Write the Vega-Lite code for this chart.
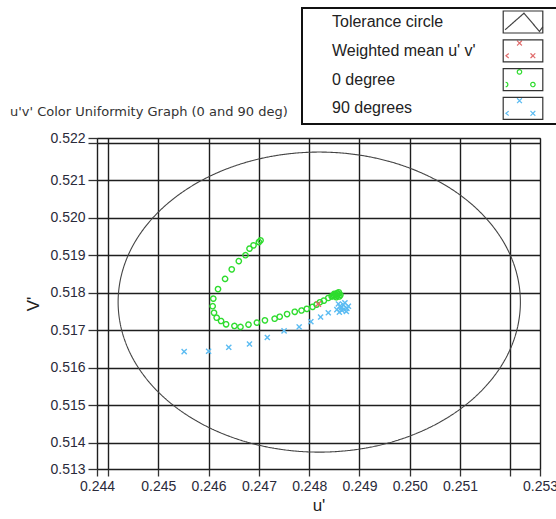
{
  "$schema": "https://vega.github.io/schema/vega-lite/v6.json",
  "autosize": "none",
  "width": 443,
  "height": 331,
  "padding": {"left": 97, "top": 138, "right": 16, "bottom": 50},
  "background": "white",
  "title": {
    "text": "u'v' Color Uniformity Graph (0 and 90 deg)",
    "anchor": "start",
    "frame": "group",
    "font": "DejaVu Sans",
    "fontSize": 13,
    "fontWeight": "normal",
    "color": "#333",
    "dx": -87,
    "offset": 14,
    "dy": 126
  },
  "datasets": {
    "circle": [
      {"i": 0, "u": 0.2522, "v": 0.51775, "series": "Tolerance circle"},
      {"i": 1, "u": 0.252139, "v": 0.518445, "series": "Tolerance circle"},
      {"i": 2, "u": 0.251959, "v": 0.519118, "series": "Tolerance circle"},
      {"i": 3, "u": 0.251664, "v": 0.51975, "series": "Tolerance circle"},
      {"i": 4, "u": 0.251264, "v": 0.520321, "series": "Tolerance circle"},
      {"i": 5, "u": 0.250771, "v": 0.520814, "series": "Tolerance circle"},
      {"i": 6, "u": 0.2502, "v": 0.521214, "series": "Tolerance circle"},
      {"i": 7, "u": 0.249568, "v": 0.521509, "series": "Tolerance circle"},
      {"i": 8, "u": 0.248895, "v": 0.521689, "series": "Tolerance circle"},
      {"i": 9, "u": 0.2482, "v": 0.52175, "series": "Tolerance circle"},
      {"i": 10, "u": 0.247505, "v": 0.521689, "series": "Tolerance circle"},
      {"i": 11, "u": 0.246832, "v": 0.521509, "series": "Tolerance circle"},
      {"i": 12, "u": 0.2462, "v": 0.521214, "series": "Tolerance circle"},
      {"i": 13, "u": 0.245629, "v": 0.520814, "series": "Tolerance circle"},
      {"i": 14, "u": 0.245136, "v": 0.520321, "series": "Tolerance circle"},
      {"i": 15, "u": 0.244736, "v": 0.51975, "series": "Tolerance circle"},
      {"i": 16, "u": 0.244441, "v": 0.519118, "series": "Tolerance circle"},
      {"i": 17, "u": 0.244261, "v": 0.518445, "series": "Tolerance circle"},
      {"i": 18, "u": 0.2442, "v": 0.51775, "series": "Tolerance circle"},
      {"i": 19, "u": 0.244261, "v": 0.517055, "series": "Tolerance circle"},
      {"i": 20, "u": 0.244441, "v": 0.516382, "series": "Tolerance circle"},
      {"i": 21, "u": 0.244736, "v": 0.51575, "series": "Tolerance circle"},
      {"i": 22, "u": 0.245136, "v": 0.515179, "series": "Tolerance circle"},
      {"i": 23, "u": 0.245629, "v": 0.514686, "series": "Tolerance circle"},
      {"i": 24, "u": 0.2462, "v": 0.514286, "series": "Tolerance circle"},
      {"i": 25, "u": 0.246832, "v": 0.513991, "series": "Tolerance circle"},
      {"i": 26, "u": 0.247505, "v": 0.513811, "series": "Tolerance circle"},
      {"i": 27, "u": 0.2482, "v": 0.51375, "series": "Tolerance circle"},
      {"i": 28, "u": 0.248895, "v": 0.513811, "series": "Tolerance circle"},
      {"i": 29, "u": 0.249568, "v": 0.513991, "series": "Tolerance circle"},
      {"i": 30, "u": 0.2502, "v": 0.514286, "series": "Tolerance circle"},
      {"i": 31, "u": 0.250771, "v": 0.514686, "series": "Tolerance circle"},
      {"i": 32, "u": 0.251264, "v": 0.515179, "series": "Tolerance circle"},
      {"i": 33, "u": 0.251664, "v": 0.51575, "series": "Tolerance circle"},
      {"i": 34, "u": 0.251959, "v": 0.516382, "series": "Tolerance circle"},
      {"i": 35, "u": 0.252139, "v": 0.517055, "series": "Tolerance circle"}
    ],
    "pts": [
      {"u": 0.247033, "v": 0.519395, "series": "0 degree"},
      {"u": 0.247, "v": 0.519351, "series": "0 degree"},
      {"u": 0.246893, "v": 0.519263, "series": "0 degree"},
      {"u": 0.246813, "v": 0.519175, "series": "0 degree"},
      {"u": 0.246733, "v": 0.519, "series": "0 degree"},
      {"u": 0.2466, "v": 0.518842, "series": "0 degree"},
      {"u": 0.24646, "v": 0.518623, "series": "0 degree"},
      {"u": 0.246327, "v": 0.518368, "series": "0 degree"},
      {"u": 0.246187, "v": 0.518096, "series": "0 degree"},
      {"u": 0.246093, "v": 0.517842, "series": "0 degree"},
      {"u": 0.24608, "v": 0.51764, "series": "0 degree"},
      {"u": 0.246107, "v": 0.517465, "series": "0 degree"},
      {"u": 0.24616, "v": 0.517333, "series": "0 degree"},
      {"u": 0.246247, "v": 0.517246, "series": "0 degree"},
      {"u": 0.246347, "v": 0.517158, "series": "0 degree"},
      {"u": 0.246513, "v": 0.517114, "series": "0 degree"},
      {"u": 0.246633, "v": 0.517088, "series": "0 degree"},
      {"u": 0.246793, "v": 0.517149, "series": "0 degree"},
      {"u": 0.24696, "v": 0.517202, "series": "0 degree"},
      {"u": 0.24712, "v": 0.517263, "series": "0 degree"},
      {"u": 0.247313, "v": 0.517307, "series": "0 degree"},
      {"u": 0.247413, "v": 0.51736, "series": "0 degree"},
      {"u": 0.24756, "v": 0.51743, "series": "0 degree"},
      {"u": 0.247713, "v": 0.517491, "series": "0 degree"},
      {"u": 0.247847, "v": 0.517526, "series": "0 degree"},
      {"u": 0.247953, "v": 0.51757, "series": "0 degree"},
      {"u": 0.248067, "v": 0.517623, "series": "0 degree"},
      {"u": 0.248147, "v": 0.517684, "series": "0 degree"},
      {"u": 0.248213, "v": 0.517746, "series": "0 degree"},
      {"u": 0.248293, "v": 0.51779, "series": "0 degree"},
      {"u": 0.24838, "v": 0.51786, "series": "0 degree"},
      {"u": 0.248447, "v": 0.517904, "series": "0 degree"},
      {"u": 0.248493, "v": 0.51793, "series": "0 degree"},
      {"u": 0.24852, "v": 0.51795, "series": "0 degree"},
      {"u": 0.24855, "v": 0.51792, "series": "0 degree"},
      {"u": 0.24858, "v": 0.51796, "series": "0 degree"},
      {"u": 0.2486, "v": 0.5179, "series": "0 degree"},
      {"u": 0.24856, "v": 0.51799, "series": "0 degree"},
      {"u": 0.2485, "v": 0.51797, "series": "0 degree"},
      {"u": 0.24862, "v": 0.51794, "series": "0 degree"},
      {"u": 0.24854, "v": 0.51788, "series": "0 degree"},
      {"u": 0.24859, "v": 0.51801, "series": "0 degree"},
      {"u": 0.24847, "v": 0.51791, "series": "0 degree"},
      {"u": 0.245513, "v": 0.51643, "series": "90 degrees"},
      {"u": 0.246, "v": 0.516439, "series": "90 degrees"},
      {"u": 0.2464, "v": 0.516544, "series": "90 degrees"},
      {"u": 0.246813, "v": 0.516632, "series": "90 degrees"},
      {"u": 0.247167, "v": 0.516807, "series": "90 degrees"},
      {"u": 0.2475, "v": 0.516982, "series": "90 degrees"},
      {"u": 0.2478, "v": 0.517088, "series": "90 degrees"},
      {"u": 0.248033, "v": 0.517228, "series": "90 degrees"},
      {"u": 0.248227, "v": 0.517351, "series": "90 degrees"},
      {"u": 0.24838, "v": 0.517465, "series": "90 degrees"},
      {"u": 0.24855, "v": 0.51755, "series": "90 degrees"},
      {"u": 0.24861, "v": 0.51764, "series": "90 degrees"},
      {"u": 0.24868, "v": 0.51768, "series": "90 degrees"},
      {"u": 0.24875, "v": 0.51758, "series": "90 degrees"},
      {"u": 0.24865, "v": 0.51753, "series": "90 degrees"},
      {"u": 0.24871, "v": 0.51773, "series": "90 degrees"},
      {"u": 0.24878, "v": 0.51764, "series": "90 degrees"},
      {"u": 0.24858, "v": 0.5177, "series": "90 degrees"},
      {"u": 0.24864, "v": 0.5176, "series": "90 degrees"},
      {"u": 0.24874, "v": 0.5175, "series": "90 degrees"},
      {"u": 0.24869, "v": 0.51756, "series": "90 degrees"},
      {"u": 0.2486, "v": 0.51748, "series": "90 degrees"},
      {"u": 0.24818, "v": 0.5177, "series": "Weighted mean u' v'"}
    ]
  },
  "encoding": {
    "x": {
      "field": "u", "type": "quantitative",
      "scale": {"domain": [0.24378, 0.25259], "nice": false, "zero": false},
      "axis": {
        "title": "u'",
        "values": [0.24378, 0.244, 0.245, 0.246, 0.247, 0.248, 0.249, 0.25, 0.251, 0.252, 0.25259],
        "labelExpr": "(datum.value == 0.244 || datum.value == 0.252) ? '' : format(datum.value, '.3f')",
        "tickSize": 7,
        "labelPadding": 3,
        "titlePadding": 4
      }
    },
    "y": {
      "field": "v", "type": "quantitative",
      "scale": {"domain": [0.5133, 0.522125], "nice": false, "zero": false},
      "axis": {
        "title": "V'",
        "values": [0.5133, 0.514, 0.515, 0.516, 0.517, 0.518, 0.519, 0.52, 0.521, 0.522, 0.522125],
        "labelExpr": "(datum.value == 0.522) ? '' : format(datum.value, '.3f')",
        "tickSize": 9,
        "labelPadding": 3,
        "titlePadding": 7
      }
    }
  },
  "layer": [
    {
      "data": {"name": "circle"},
      "mark": {"type": "line", "interpolate": "cardinal-closed", "strokeWidth": 1.1},
      "encoding": {
        "order": {"field": "i", "type": "quantitative"},
        "color": {
          "field": "series", "type": "nominal",
          "scale": {
            "domain": ["Tolerance circle", "Weighted mean u' v'", "0 degree", "90 degrees"],
            "range": ["#444444", "#e06a6a", "#2edc2e", "#5cbcf2"]
          },
          "legend": {
            "orient": "none", "legendX": 205, "legendY": -130,
            "title": null,
            "padding": 2,
            "symbolSize": 484,
            "rowPadding": 0.8,
            "labelFont": "Liberation Sans",
            "labelFontSize": 16,
            "labelColor": "#222",
            "labelOffset": -203,
            "symbolOffset": 207,
            "symbolStrokeWidth": 1.2,
            "encode": {
              "symbols": {
                "update": {
                  "shape": {"signal": "(datum.value === 'Tolerance circle' ? 'M-1.63,0.71L0.09,-0.8L1.5,0.86L1.8,0.43' : datum.value === '0 degree' ? 'M-0.52,-0.7a0.2,0.2 0 1,0 0.4,0a0.2,0.2 0 1,0 -0.4,0M0.7,0.45a0.2,0.2 0 1,0 0.4,0a0.2,0.2 0 1,0 -0.4,0M-1.58,0.25a0.2,0.2 0 0,1 0,0.4' : 'M-0.54,-0.92L-0.1,-0.48M-0.54,-0.48L-0.1,-0.92M0.68,0.23L1.12,0.67M0.68,0.67L1.12,0.23M-1.3,0.25L-1.55,0.45L-1.3,0.65') + 'M-1.8,-1M1.8,1'"},
                  "stroke": {"scale": "color", "field": "value"},
                  "fill": {"value": "transparent"},
                  "strokeWidth": {"value": 1.2},
                  "strokeDash": {"value": [1, 0]},
                  "opacity": {"value": 1}
                }
              }
            }
          }
        },
        "strokeDash": {
          "field": "series", "type": "nominal",
          "scale": {"range": [[1, 0], [1, 0], [1, 0], [1, 0]]},
          "legend": {
            "orient": "none", "legendX": 205, "legendY": -130,
            "title": null,
            "padding": 2,
            "symbolSize": 484,
            "rowPadding": 0.8,
            "labelFont": "Liberation Sans",
            "labelFontSize": 16,
            "labelExpr": "''",
            "labelOffset": -203,
            "symbolOffset": 207,
            "symbolStrokeWidth": 1.2,
            "strokeColor": "#111",
            "encode": {
              "legend": {"update": {"strokeWidth": {"value": 2}}},
              "symbols": {
                "update": {
                  "shape": {"value": "M-1.8,-1H1.8V1H-1.8ZM3.8,0L3.8,0"},
                  "stroke": {"value": "#333"},
                  "fill": {"value": "transparent"},
                  "strokeWidth": {"value": 1.2},
                  "strokeDash": {"value": [1, 0]},
                  "opacity": {"value": 1}
                }
              }
            }
          }
        }
      }
    },
    {
      "data": {"name": "pts"},
      "mark": {"type": "point", "filled": false, "strokeWidth": 1.4, "opacity": 1},
      "encoding": {
        "color": {"field": "series", "type": "nominal"},
        "strokeDash": {"field": "series", "type": "nominal"},
        "shape": {
          "field": "series", "type": "nominal",
          "scale": {
            "domain": ["Weighted mean u' v'", "0 degree", "90 degrees"],
            "range": ["M-1,-1L1,1M-1,1L1,-1", "circle", "M-1,-1L1,1M-1,1L1,-1"]
          },
          "legend": null
        },
        "size": {
          "field": "series", "type": "nominal",
          "scale": {"domain": ["Weighted mean u' v'", "0 degree", "90 degrees"], "range": [30, 26, 36]},
          "legend": null
        }
      }
    }
  ],
  "config": {
    "view": {"stroke": "#444", "strokeWidth": 1},
    "axis": {
      "domain": false,
      "grid": true,
      "gridColor": "#1e1e1e",
      "gridWidth": 1.4,
      "gridOpacity": 1,
      "tickColor": "#333",
      "tickWidth": 1.3,
      "labelFont": "Liberation Sans",
      "labelFontSize": 14,
      "labelColor": "#2a2a3a",
      "labelOverlap": false,
      "labelBound": false,
      "labelFlush": false,
      "titleFont": "Liberation Sans",
      "titleFontSize": 17,
      "titleFontWeight": "normal",
      "titleColor": "#222"
    }
  }
}
